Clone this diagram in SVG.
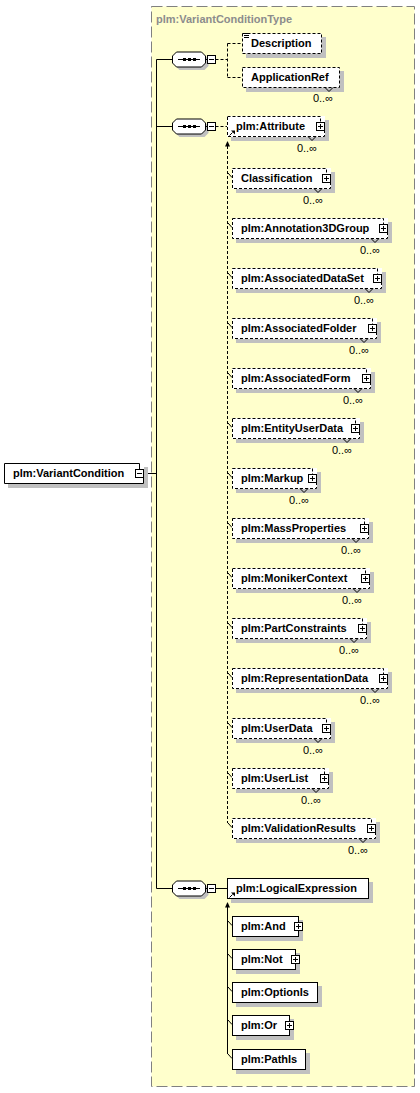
<svg xmlns="http://www.w3.org/2000/svg" width="420" height="1093" viewBox="0 0 420 1093">
<defs>
<style>
.bg{fill:#ffffcc;stroke:#808080;stroke-width:1;stroke-dasharray:11,4}
.sh{fill:#c0c0c0}
.wf{fill:#fff}
.bx{fill:#fff;stroke:#000;stroke-width:1}
.bd{fill:none;stroke:#000;stroke-width:1;stroke-dasharray:3,2}
.bxd{fill:#fff;stroke:#000;stroke-width:1;stroke-dasharray:3,2}
.ln{fill:none;stroke:#000;stroke-width:1}
.dl{fill:none;stroke:#000;stroke-width:1;stroke-dasharray:3,2}
.t{font-family:"Liberation Sans",Arial,sans-serif;font-size:11px;font-weight:bold;fill:#000}
.o{font-family:"Liberation Sans",Arial,sans-serif;font-size:11px;fill:#000}
.ttl{font-family:"Liberation Sans",Arial,sans-serif;font-size:11px;font-weight:bold;fill:#8c8c8c}
</style>
<g id="plus"><rect class="bx" x="0.5" y="-3.5" width="8" height="8"/><path class="ln" d="M2,0.5H7M4.5,-2V3"/></g>
<g id="minus"><rect class="bx" x="0.5" y="-3.5" width="8" height="8"/><path class="ln" d="M2,0.5H7"/></g>
<polyline id="chev" class="ln" points="-4,10.5 0,14.5 4,10.5"/>
<g id="ref"><path class="ln" d="M229.5,9.5L232.5,6.5"/><polygon points="231,4.5 235,4.5 235,8.5" fill="#000"/></g>
<g id="seq">
<polygon class="sh" points="179.5,-4 204.5,-4 208.5,0 208.5,7 204.5,11 179.5,11 175.5,7 175.5,0"/>
<polygon class="bx" points="176.5,-7 201.5,-7 205.5,-3 205.5,4 201.5,8 176.5,8 172.5,4 172.5,-3"/>
<path class="ln" d="M178,0.5H200M205.5,0.5H207.5"/>
<rect x="183" y="-1" width="3" height="3" fill="#000"/>
<rect x="188" y="-1" width="3" height="3" fill="#000"/>
<rect x="193" y="-1" width="3" height="3" fill="#000"/>
<use href="#minus" x="207"/>
</g>
</defs>

<rect class="bg" x="151.5" y="6.5" width="263" height="1080"/>
<text class="ttl" x="156" y="23">plm:VariantConditionType</text>

<g id="connectors">
<path class="ln" d="M156.5,59.5V888.5M143.5,473.5H156.5M156.5,59.5H172.5M156.5,126.5H172.5M156.5,888.5H172.5"/>
<path class="dl" d="M215.5,59.5H227.5M227.5,43.5V77.5M227.5,43.5H242.5M227.5,77.5H242.5"/>
<path class="dl" d="M215.5,126.5H227.5"/>
<path class="dl" d="M227.5,146V823"/>
<polygon points="225,146.5 230,146.5 227.5,141" fill="#000"/>
<path class="ln" d="M228,173L232,177.5M228,223L232,227.5M228,273L232,277.5M228,323L232,327.5M228,373L232,377.5M228,423L232,427.5M228,473L232,477.5M228,523L232,527.5M228,573L232,577.5M228,623L232,627.5M228,673L232,677.5M228,723L232,727.5M228,773L232,777.5M228,823L232,827.5"/>
<path class="ln" d="M215.5,888.5H227.5M227.5,907V1054"/>
<polygon points="225,907.5 230,907.5 227.5,902" fill="#000"/>
<path class="ln" d="M228,921L232,925.5M228,954L232,958.5M228,987L232,991.5M228,1020L232,1024.5M228,1054L232,1058.5"/>
</g>

<g id="n-variantcondition" transform="translate(0,473)">
<rect class="sh" x="8" y="-6" width="140" height="21"/>
<rect class="wf" x="4" y="-10" width="140" height="21"/>
<path class="ln" d="M4.5,-9.5H139.5V-4M143.5,4V10.5H4.5V-9.5"/>
<use href="#minus" x="135"/>
<text class="t" x="13" y="4">plm:VariantCondition</text>
</g>

<g id="seq1" transform="translate(0,59)"><use href="#seq"/></g>
<g id="seq2" transform="translate(0,126)"><use href="#seq"/></g>
<g id="seq3" transform="translate(0,888)"><use href="#seq"/></g>

<g id="n-description" transform="translate(0,43)">
<rect class="sh" x="246" y="-6" width="80" height="21"/>
<rect class="bxd" x="242.5" y="-9.5" width="79" height="20"/>
<path class="ln" d="M244,-9.5H249M244,-7.5H249M244,-5.5H249"/>
<text class="t" x="251" y="4">Description</text>
</g>

<g id="n-applicationref" transform="translate(0,77)">
<rect class="sh" x="246" y="-6" width="98" height="21"/>
<rect class="bxd" x="242.5" y="-9.5" width="97" height="20"/>
<text class="t" x="251" y="4">ApplicationRef</text>
<use href="#chev" x="329"/>
<text class="o" x="333" y="25" text-anchor="end">0..∞</text>
</g>

<g id="n-attribute" transform="translate(0,126)">
<rect class="sh" x="231" y="-6" width="98" height="21"/>
<rect class="wf" x="227" y="-10" width="98" height="21"/>
<path class="bd" d="M227.5,-9.5H320.5V-4M324.5,4V10.5H227.5V-9.5"/>
<use href="#plus" x="316"/>
<use href="#ref"/>
<text class="t" x="236" y="4">plm:Attribute</text>
<use href="#chev" x="312"/>
<text class="o" x="317" y="26" text-anchor="end">0..∞</text>
</g>

<g id="n-classification" transform="translate(0,178)">
<rect class="sh" x="236" y="-6" width="99" height="21"/>
<rect class="wf" x="232" y="-10" width="99" height="21"/>
<path class="bd" d="M232.5,-9.5H326.5V-4M330.5,4V10.5H232.5V-9.5"/>
<use href="#plus" x="322"/>
<text class="t" x="241" y="4">Classification</text>
<use href="#chev" x="318"/>
<text class="o" x="323" y="26" text-anchor="end">0..∞</text>
</g>

<g id="n-annotation3dgroup" transform="translate(0,228)">
<rect class="sh" x="236" y="-6" width="156" height="21"/>
<rect class="wf" x="232" y="-10" width="156" height="21"/>
<path class="bd" d="M232.5,-9.5H383.5V-4M387.5,4V10.5H232.5V-9.5"/>
<use href="#plus" x="379"/>
<text class="t" x="241" y="4">plm:Annotation3DGroup</text>
<use href="#chev" x="375"/>
<text class="o" x="380" y="26" text-anchor="end">0..∞</text>
</g>

<g id="n-associateddataset" transform="translate(0,278)">
<rect class="sh" x="236" y="-6" width="150" height="21"/>
<rect class="wf" x="232" y="-10" width="150" height="21"/>
<path class="bd" d="M232.5,-9.5H377.5V-4M381.5,4V10.5H232.5V-9.5"/>
<use href="#plus" x="373"/>
<text class="t" x="241" y="4">plm:AssociatedDataSet</text>
<use href="#chev" x="369"/>
<text class="o" x="374" y="26" text-anchor="end">0..∞</text>
</g>

<g id="n-associatedfolder" transform="translate(0,328)">
<rect class="sh" x="236" y="-6" width="145" height="21"/>
<rect class="wf" x="232" y="-10" width="145" height="21"/>
<path class="bd" d="M232.5,-9.5H372.5V-4M376.5,4V10.5H232.5V-9.5"/>
<use href="#plus" x="368"/>
<text class="t" x="241" y="4">plm:AssociatedFolder</text>
<use href="#chev" x="364"/>
<text class="o" x="369" y="26" text-anchor="end">0..∞</text>
</g>

<g id="n-associatedform" transform="translate(0,378)">
<rect class="sh" x="236" y="-6" width="139" height="21"/>
<rect class="wf" x="232" y="-10" width="139" height="21"/>
<path class="bd" d="M232.5,-9.5H366.5V-4M370.5,4V10.5H232.5V-9.5"/>
<use href="#plus" x="362"/>
<text class="t" x="241" y="4">plm:AssociatedForm</text>
<use href="#chev" x="358"/>
<text class="o" x="363" y="26" text-anchor="end">0..∞</text>
</g>

<g id="n-entityuserdata" transform="translate(0,428)">
<rect class="sh" x="236" y="-6" width="128" height="21"/>
<rect class="wf" x="232" y="-10" width="128" height="21"/>
<path class="bd" d="M232.5,-9.5H355.5V-4M359.5,4V10.5H232.5V-9.5"/>
<use href="#plus" x="351"/>
<text class="t" x="241" y="4">plm:EntityUserData</text>
<use href="#chev" x="347"/>
<text class="o" x="352" y="26" text-anchor="end">0..∞</text>
</g>

<g id="n-markup" transform="translate(0,478)">
<rect class="sh" x="236" y="-6" width="85" height="21"/>
<rect class="wf" x="232" y="-10" width="85" height="21"/>
<path class="bd" d="M232.5,-9.5H312.5V-4M316.5,4V10.5H232.5V-9.5"/>
<use href="#plus" x="308"/>
<text class="t" x="241" y="4">plm:Markup</text>
<use href="#chev" x="304"/>
<text class="o" x="309" y="26" text-anchor="end">0..∞</text>
</g>

<g id="n-massproperties" transform="translate(0,528)">
<rect class="sh" x="236" y="-6" width="137" height="21"/>
<rect class="wf" x="232" y="-10" width="137" height="21"/>
<path class="bd" d="M232.5,-9.5H364.5V-4M368.5,4V10.5H232.5V-9.5"/>
<use href="#plus" x="360"/>
<text class="t" x="241" y="4">plm:MassProperties</text>
<use href="#chev" x="356"/>
<text class="o" x="361" y="26" text-anchor="end">0..∞</text>
</g>

<g id="n-monikercontext" transform="translate(0,578)">
<rect class="sh" x="236" y="-6" width="138" height="21"/>
<rect class="wf" x="232" y="-10" width="138" height="21"/>
<path class="bd" d="M232.5,-9.5H365.5V-4M369.5,4V10.5H232.5V-9.5"/>
<use href="#plus" x="361"/>
<text class="t" x="241" y="4">plm:MonikerContext</text>
<use href="#chev" x="357"/>
<text class="o" x="362" y="26" text-anchor="end">0..∞</text>
</g>

<g id="n-partconstraints" transform="translate(0,628)">
<rect class="sh" x="236" y="-6" width="135" height="21"/>
<rect class="wf" x="232" y="-10" width="135" height="21"/>
<path class="bd" d="M232.5,-9.5H362.5V-4M366.5,4V10.5H232.5V-9.5"/>
<use href="#plus" x="358"/>
<text class="t" x="241" y="4">plm:PartConstraints</text>
<use href="#chev" x="354"/>
<text class="o" x="359" y="26" text-anchor="end">0..∞</text>
</g>

<g id="n-representationdata" transform="translate(0,678)">
<rect class="sh" x="236" y="-6" width="156" height="21"/>
<rect class="wf" x="232" y="-10" width="156" height="21"/>
<path class="bd" d="M232.5,-9.5H383.5V-4M387.5,4V10.5H232.5V-9.5"/>
<use href="#plus" x="379"/>
<text class="t" x="241" y="4">plm:RepresentationData</text>
<use href="#chev" x="375"/>
<text class="o" x="380" y="26" text-anchor="end">0..∞</text>
</g>

<g id="n-userdata" transform="translate(0,728)">
<rect class="sh" x="236" y="-6" width="99" height="21"/>
<rect class="wf" x="232" y="-10" width="99" height="21"/>
<path class="bd" d="M232.5,-9.5H326.5V-4M330.5,4V10.5H232.5V-9.5"/>
<use href="#plus" x="322"/>
<text class="t" x="241" y="4">plm:UserData</text>
<use href="#chev" x="318"/>
<text class="o" x="323" y="26" text-anchor="end">0..∞</text>
</g>

<g id="n-userlist" transform="translate(0,778)">
<rect class="sh" x="236" y="-6" width="97" height="21"/>
<rect class="wf" x="232" y="-10" width="97" height="21"/>
<path class="bd" d="M232.5,-9.5H324.5V-4M328.5,4V10.5H232.5V-9.5"/>
<use href="#plus" x="320"/>
<text class="t" x="241" y="4">plm:UserList</text>
<use href="#chev" x="316"/>
<text class="o" x="321" y="26" text-anchor="end">0..∞</text>
</g>

<g id="n-validationresults" transform="translate(0,828)">
<rect class="sh" x="236" y="-6" width="144" height="21"/>
<rect class="wf" x="232" y="-10" width="144" height="21"/>
<path class="bd" d="M232.5,-9.5H371.5V-4M375.5,4V10.5H232.5V-9.5"/>
<use href="#plus" x="367"/>
<text class="t" x="241" y="4">plm:ValidationResults</text>
<use href="#chev" x="363"/>
<text class="o" x="368" y="26" text-anchor="end">0..∞</text>
</g>

<g id="n-logicalexpression" transform="translate(0,888)">
<rect class="sh" x="231" y="-6" width="142" height="21"/>
<rect class="bx" x="227.5" y="-9.5" width="141" height="20"/>
<use href="#ref"/>
<text class="t" x="236" y="4">plm:LogicalExpression</text>
</g>

<g id="n-and" transform="translate(0,926)">
<rect class="sh" x="236" y="-6" width="67" height="21"/>
<rect class="bx" x="232.5" y="-9.5" width="66" height="20"/>
<use href="#plus" x="294"/>
<text class="t" x="241" y="4">plm:And</text>
</g>

<g id="n-not" transform="translate(0,959)">
<rect class="sh" x="236" y="-6" width="64" height="21"/>
<rect class="bx" x="232.5" y="-9.5" width="63" height="20"/>
<use href="#plus" x="291"/>
<text class="t" x="241" y="4">plm:Not</text>
</g>

<g id="n-optionis" transform="translate(0,992)">
<rect class="sh" x="236" y="-6" width="86" height="21"/>
<rect class="bx" x="232.5" y="-9.5" width="85" height="20"/>
<text class="t" x="241" y="4">plm:OptionIs</text>
</g>

<g id="n-or" transform="translate(0,1025)">
<rect class="sh" x="236" y="-6" width="58" height="21"/>
<rect class="bx" x="232.5" y="-9.5" width="57" height="20"/>
<use href="#plus" x="285"/>
<text class="t" x="241" y="4">plm:Or</text>
</g>

<g id="n-pathis" transform="translate(0,1059)">
<rect class="sh" x="236" y="-6" width="74" height="21"/>
<rect class="bx" x="232.5" y="-9.5" width="73" height="20"/>
<text class="t" x="241" y="4">plm:PathIs</text>
</g>
</svg>
